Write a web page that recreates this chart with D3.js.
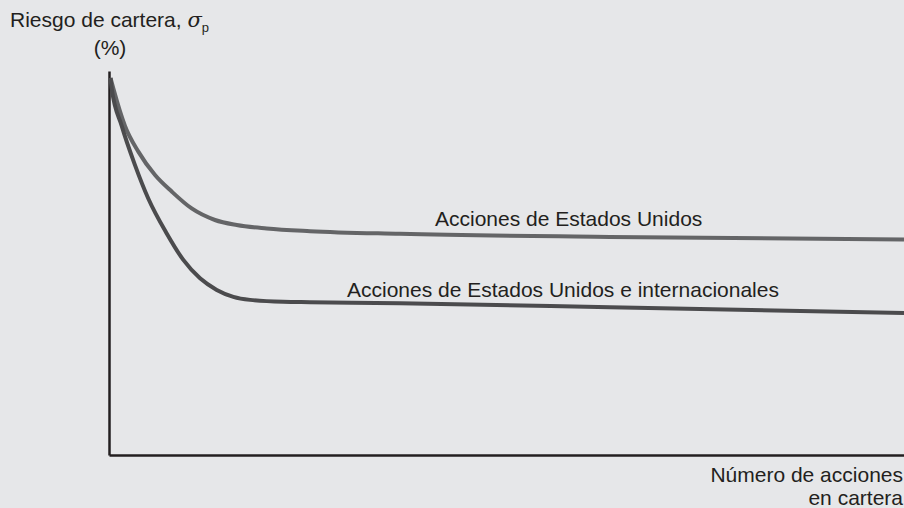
<!DOCTYPE html>
<html>
<head>
<meta charset="utf-8">
<script src="https://cdn.jsdelivr.net/npm/d3@7"></script>
<style>
  html, body { margin: 0; padding: 0; background: #e6e7e9; }
  svg { display: block; font-family: "Liberation Sans", Arial, sans-serif; }
  text { fill: #231f20; }
</style>
</head>
<body>
<svg id="chart" width="904" height="508"></svg>
<script>
// number of stocks (0-100 relative) and portfolio risk (0-100 relative)
var usX = [0.19, 0.54, 2.01, 3.69, 5.79, 7.89, 10.4, 13.33, 16.06, 19.84, 25.28, 36.6, 63.0, 100];
var usY = [98.2, 95.5, 85.7, 79.0, 72.9, 68.6, 64.2, 61.2, 59.9, 59.0, 58.3, 57.6, 56.8, 56.1];
var intlX = [0.19, 0.34, 1.6, 3.27, 4.94, 7.26, 9.35, 11.45, 13.55, 15.64, 17.74, 21.9, 25.28, 36.6, 63.0, 100];
var intlY = [98.2, 95.5, 85.7, 75.5, 66.8, 57.7, 50.8, 46.0, 43.0, 41.2, 40.4, 39.9, 39.8, 39.5, 38.5, 37.0];
var seriesNames = ["Acciones de Estados Unidos", "Acciones de Estados Unidos e internacionales"];

var svg = d3.select("#chart");
var width = 904, height = 508;

var x = d3.scaleLinear().domain([0, 100]).range([109, 904]);
var y = d3.scaleLinear().domain([0, 100]).range([455, 71]);

// axes: only the lines, no ticks
var xAxis = svg.append("g")
    .attr("transform", "translate(0," + y(0) + ")")
    .call(d3.axisBottom(x).ticks(0).tickSizeOuter(0));
var yAxis = svg.append("g")
    .attr("transform", "translate(" + x(0) + ",0)")
    .call(d3.axisLeft(y).ticks(0).tickSizeOuter(0));
svg.selectAll(".domain")
    .attr("stroke", "#231f20")
    .attr("stroke-width", 2.5);

var line = d3.line()
    .x(d => x(d[0]))
    .y(d => y(d[1]))
    .curve(d3.curveMonotoneX);

var series = [
    {pts: d3.zip(usX, usY), color: "#646567"},
    {pts: d3.zip(intlX, intlY), color: "#4b4b4d"}
];

svg.selectAll("path.curve")
    .data(series)
    .enter()
    .append("path")
    .attr("class", "curve")
    .attr("d", d => line(d.pts))
    .attr("fill", "none")
    .attr("stroke", d => d.color)
    .attr("stroke-width", 4)
    .attr("stroke-linecap", "butt");

// curve labels
svg.append("text")
    .attr("x", 435).attr("y", 226)
    .attr("font-size", 21)
    .text(seriesNames[0]);
svg.append("text")
    .attr("x", 347).attr("y", 297)
    .attr("font-size", 21)
    .text(seriesNames[1]);

// y title
var yt = svg.append("text")
    .attr("x", 10).attr("y", 27)
    .attr("font-size", 21);
yt.append("tspan").text("Riesgo de cartera, ");
yt.append("tspan").attr("font-family", "'DejaVu Serif', serif").attr("font-style", "italic").text("σ");
yt.append("tspan").attr("font-size", 13).attr("dy", 5).text("p");
svg.append("text")
    .attr("x", 110).attr("y", 55)
    .attr("text-anchor", "middle")
    .attr("font-size", 21)
    .text("(%)");

// x title
svg.append("text")
    .attr("x", 903).attr("y", 482)
    .attr("text-anchor", "end")
    .attr("font-size", 21)
    .text("Número de acciones");
svg.append("text")
    .attr("x", 903).attr("y", 505)
    .attr("text-anchor", "end")
    .attr("font-size", 21)
    .text("en cartera");
</script>
</body>
</html>
